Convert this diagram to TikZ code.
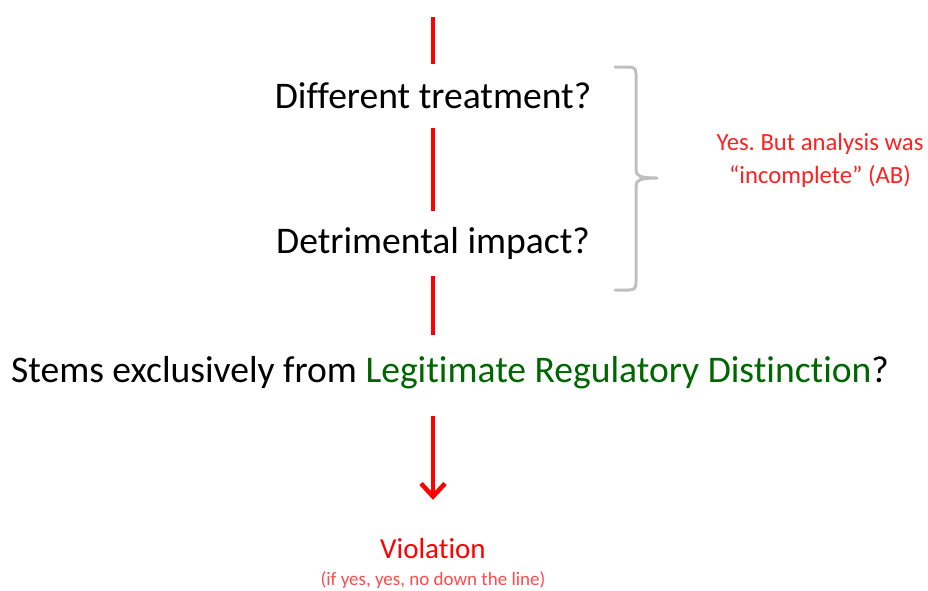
\documentclass[tikz,border=0pt]{standalone}
\usepackage{fontspec}
\setmainfont{Carlito}[Ligatures=NoCommon]
\frenchspacing
\usetikzlibrary{arrows.meta}
\definecolor{flowred}{HTML}{FF0000}
\definecolor{notered}{HTML}{FF2020}
\definecolor{subred}{HTML}{FF4B4B}
\definecolor{legitgreen}{HTML}{006600}
\definecolor{bracegray}{HTML}{BFBFBF}
\begin{document}
\begin{tikzpicture}[x=1pt,y=-1pt,
  question/.style={inner sep=0pt, text height=28pt, text depth=8pt, font=\fontsize{37.6}{40}\selectfont, text=black},
  flow/.style={draw=flowred, line width=4.5pt},
  note/.style={align=center, text=notered, font=\fontsize{24.7}{33}\selectfont},
  bracestyle/.style={draw=bracegray, line width=3pt, line cap=round, line join=round}]
  \useasboundingbox (0,0) rectangle (928,590);

  % question nodes along the decision line
  \coordinate (start) at (433,17);
  \node[question, anchor=base] (diff) at (433,108) {Different treatment?};
  \node[question, anchor=base] (detr) at (433,253) {Detrimental impact?};
  \node[question, anchor=base] (stems) at (450,382) {Stems exclusively from \textcolor{legitgreen}{Legitimate Regulatory Distinction}?};
  \coordinate (stemsfoot) at (433,390);
  \node[anchor=base, inner sep=0pt, text height=21pt, text depth=6pt, text=flowred, font=\fontsize{29}{32}\selectfont] (viol) at (433,558) {Violation};
  \node[anchor=base, inner sep=0pt, text=subred, font=\fontsize{19}{22}\selectfont] (cond) at (433,585) {(if yes, yes, no down the line)};

  % red decision line
  \draw[flow, shorten >=16pt] (start) -- (diff.north);
  \draw[flow, shorten <=12pt, shorten >=14pt] (diff.south) -- (detr.north);
  \draw[flow, shorten <=15pt, shorten >=19pt] (detr.south) -- (detr.south |- stems.north);
  \draw[flow, shorten <=26pt, shorten >=37pt, -{Straight Barb[length=13pt,width=24pt]}] (stemsfoot) -- (viol.north);

  % brace grouping the first two questions
  \coordinate (tip) at (657,178);
  \draw[bracestyle] (615,67) -- (629,67) .. controls (634,67) and (636,69) .. (636,74)
    -- (636,170) .. controls (636,176) and (640,178) .. (tip)
    .. controls (640,178) and (636,180) .. (636,186)
    -- (636,283) .. controls (636,288) and (634,290) .. (629,290) -- (615,290);

  % remark on the grouped questions (base anchor sits on the last line)
  \node[note, anchor=base] (remark) at (820,183) {Yes. But analysis was\\“incomplete” (AB)};
\end{tikzpicture}
\end{document}
